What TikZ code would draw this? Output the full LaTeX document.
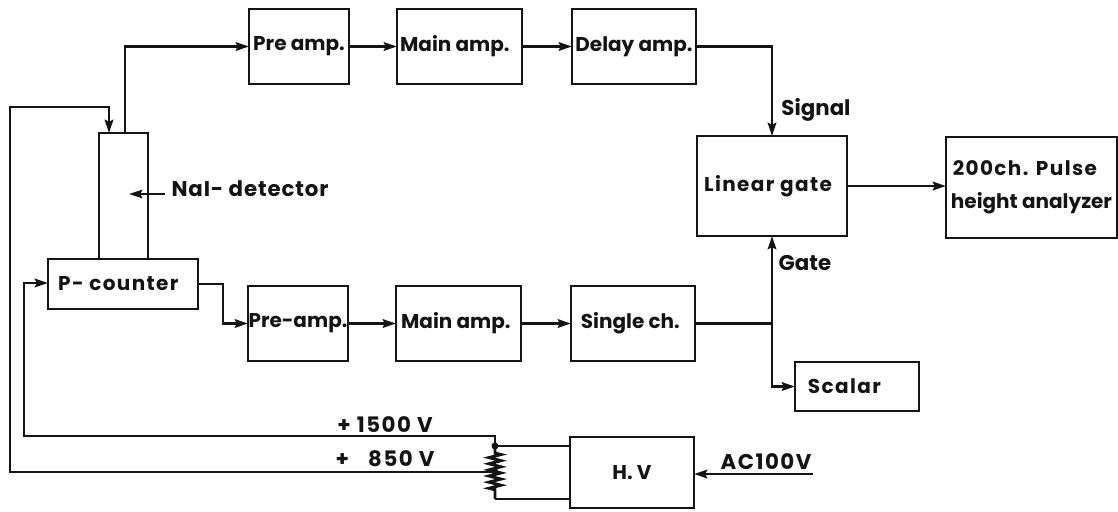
\documentclass[tikz,border=0pt]{standalone}
\usepackage{fontspec}
\setmainfont{Poppins}
\usetikzlibrary{arrows.meta,decorations.pathmorphing}
\colorlet{inkColor}{black!92}
\newcommand{\Spaced}{\addfontfeatures{LetterSpace=7}}
\newcommand{\PlaceBox}[6]{%
  % #1 name, #2 left, #3 top, #4 right, #5 bottom, #6 text
  \node[unitbox,minimum width={(#4-#2)*0.75pt},minimum height={(#5-#3)*0.75pt}]
    (#1) at ({(#2+#4)/2},{(#3+#5)/2}) {#6};
}
\begin{document}
\begin{tikzpicture}[
  x=0.75pt,y=-0.75pt,
  >={Stealth[length=10pt,width=6.5pt,inset=1.5pt]},
  unitbox/.style={draw=inkColor,line width=1.5pt,inner sep=0pt,outer sep=0pt,
    font=\fontsize{15}{25}\selectfont\bfseries,text=inkColor,align=center},
  wire/.style={draw=inkColor,line width=1.7pt},
  label/.style={font=\fontsize{16}{18}\selectfont\bfseries,text=inkColor,inner sep=0pt}
]
\useasboundingbox (0,0) rectangle (1118,511);

% Upper row
\PlaceBox{PreTop}{249}{9}{349}{84}{Pre amp.}
\PlaceBox{MainTop}{397}{9}{522}{84}{Main amp.\hspace*{7pt}}
\PlaceBox{Delay}{572}{9}{696}{84}{Delay amp.}

% Lower row
\PlaceBox{PreLow}{248}{286}{348}{361}{Pre-amp.}
\PlaceBox{MainLow}{396}{286}{521}{361}{Main amp.\hspace*{4pt}}
\PlaceBox{Single}{571}{286}{695}{361}{Single ch.\hspace*{4pt}}

% Detector
\PlaceBox{Det}{99}{133}{148}{259}{}
\PlaceBox{PCount}{48}{259}{198}{309}{\Spaced P- counter\hspace*{7pt}}

% Right side
\PlaceBox{Gate}{697}{136}{847}{236}{\Spaced Linear gate\hspace*{6pt}}
\PlaceBox{PHA}{946}{137}{1117}{238}{\Spaced 200ch. Pulse\hspace*{10pt}\\height analyzer}
\PlaceBox{Scal}{795}{362}{919}{411}{\Spaced Scalar\hspace*{19pt}}
\PlaceBox{HV}{570}{437}{694}{508}{H. V}

% Labels
\node[label] (NaI) at (250,189) {\addfontfeatures{LetterSpace=4}NaI- detector};
\node[label] (SigL) at (816,110) {Signal};
\node[label] (GateL) at (805,263) {Gate};
\node[label] (HiV) at (385,425) {\Spaced + 1500 V};
\node[label] (LoV) at (385,459) {\Spaced +\hspace{0.9em}850 V};
\node[label] (AC) at (766,462) {\Spaced AC100V};

% Named free ends
\coordinate (TopTap) at (125,133);
\coordinate (DetIn) at (109,133);
\coordinate (NaIEnd) at (165,194);
\coordinate (NaITip) at (129,194);
\coordinate (Branch) at (Single.east -| Gate.south);
\coordinate (ResTop) at (495,446);
\coordinate (ResBot) at (495,499);
\coordinate (ResTap) at (495,472);
\coordinate (ACEnd) at (813,474);

% Connections
\draw[wire,->] (TopTap) |- (PreTop.west);
\draw[wire,->] (PreTop.east) -- (MainTop.west);
\draw[wire,->] (MainTop.east) -- (Delay.west);
\draw[wire,->] (Delay.east) -| (Gate.north);
\draw[wire,->] (PCount.east) -- ++(25,0) |- (PreLow.west);
\draw[wire,->] (PreLow.east) -- (MainLow.west);
\draw[wire,->] (MainLow.east) -- (Single.west);
\draw[wire] (Single.east) -- (Branch);
\draw[wire,->] (Branch) -- (Gate.south);
\draw[wire,->] (Branch) |- (Scal.west);
\draw[wire,->] (Gate.east) -- (Gate.east -| PHA.west);
\draw[wire,->] (ACEnd) -- (HV.east |- ACEnd);
\draw[draw=inkColor,line width=1.5pt,->] (NaIEnd) -- (NaITip);

% High voltage feeds
\draw[wire,->] (ResTop) -- ++(0,-10) -| (24,283) -- (PCount.west |- 0,283);
\draw[wire,->] (ResTap) -| (10,107) -| (DetIn);

% Divider
\draw[wire,line width=2.2pt] (ResTop) -- ++(0,7) decorate[decoration={zigzag,segment length=4.6pt,amplitude=4.5pt}] {-- (495,491)} -- (ResBot);
\fill[inkColor] (ResTop) circle (3.5) (ResTap) circle (3.5);
\draw[wire] (ResTop) -- (HV.west |- ResTop);
\draw[wire] (ResBot) -- (HV.west |- ResBot);
\end{tikzpicture}
\end{document}
